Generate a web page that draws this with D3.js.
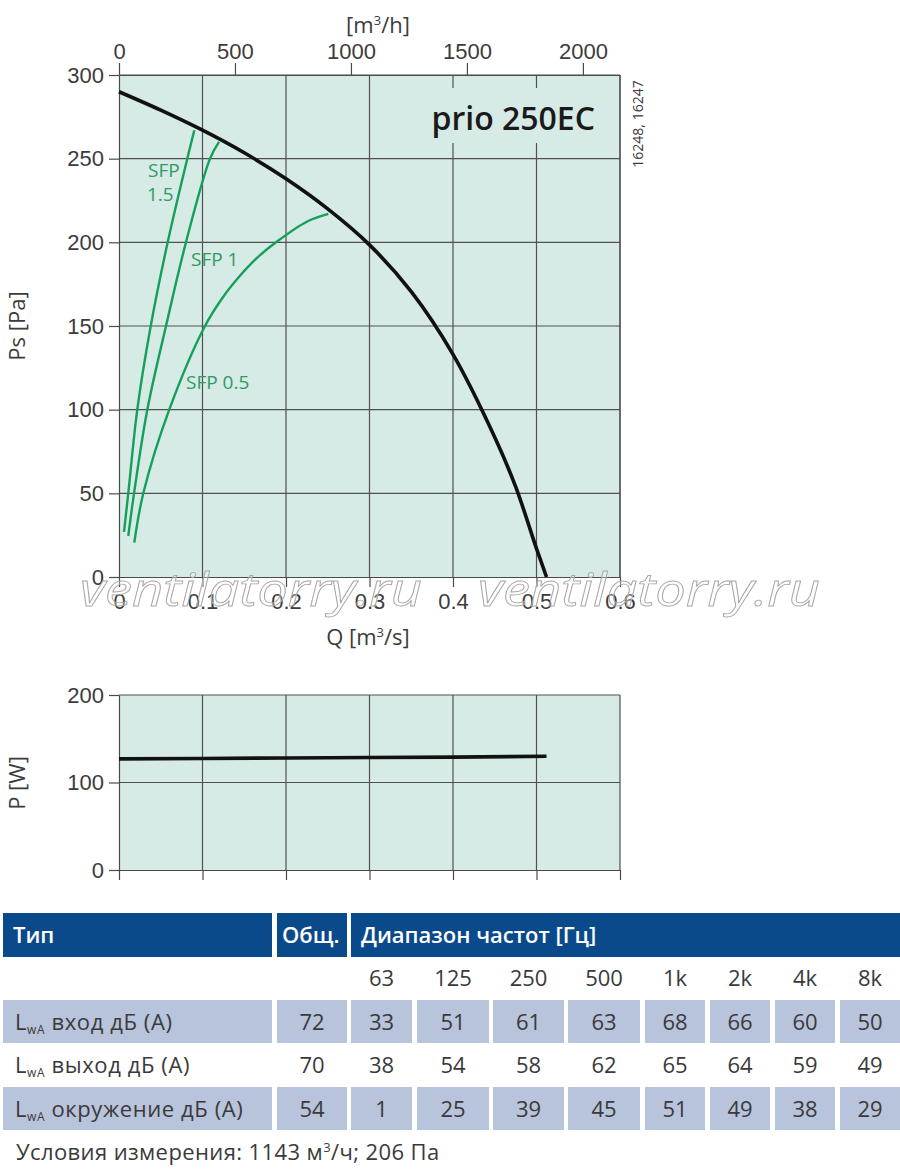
<!DOCTYPE html>
<html>
<head>
<meta charset="utf-8">
<script src="https://cdn.jsdelivr.net/npm/d3@7"></script>
<style>
  body { margin: 0; background: #fff; }
  svg { font-family: "Open Sans", "Noto Sans", sans-serif; }
  .tick text { font-size: 22px; fill: #3c3c3c; }
  .tick line, .domain { stroke: #4a4a4a; stroke-width: 1.2; }
</style>
</head>
<body>
<script>
// fan curve, prio 250EC
var fanQ  = [0, 0.05, 0.1, 0.15, 0.2, 0.25, 0.3, 0.35, 0.4, 0.45, 0.475, 0.5, 0.512];
var fanPs = [290, 279, 267, 253.5, 238, 220, 198.5, 170.5, 133, 83.5, 54, 17, 0];

// SFP lines
var sfp15Q  = [0.006, 0.0111, 0.0219, 0.038, 0.0583, 0.0818, 0.0902];
var sfp15Ps = [27, 50, 100, 150, 200, 250, 267];
var sfp1Q   = [0.0111, 0.018, 0.0339, 0.0563, 0.0802, 0.109, 0.1198];
var sfp1Ps  = [24.5, 50, 100, 150, 200, 250, 260];
var sfp05Q  = [0.0183, 0.0291, 0.0602, 0.103, 0.1249, 0.1449, 0.1649, 0.188, 0.2248, 0.2507];
var sfp05Ps = [20.5, 50, 100, 150, 167.5, 180, 190.5, 200, 212.3, 217];

// power input
var powQ = [0, 0.1, 0.2, 0.3, 0.4, 0.512];
var powP = [127, 127.5, 128, 128.5, 129, 130];

// ticks
var qTicks  = [0, 0.1, 0.2, 0.3, 0.4, 0.5, 0.6];
var qhTicks = [0, 500, 1000, 1500, 2000];
var psTicks = [0, 50, 100, 150, 200, 250, 300];
var pTicks  = [0, 100, 200];

// sound table
var freqs     = ["63", "125", "250", "500", "1k", "2k", "4k", "8k"];
var rowNames  = ["вход дБ (A)", "выход дБ (A)", "окружение дБ (A)"];
var totals    = [72, 70, 54];
var inletdB   = [33, 51, 61, 63, 68, 66, 60, 50];
var outletdB  = [38, 54, 58, 62, 65, 64, 59, 49];
var surrdB    = [1, 25, 39, 45, 51, 49, 38, 29];

var width = 900, height = 1175;
var bg = "#d6ebe6", grid = "#505050", green = "#14a05a";

var svg = d3.select("body").append("svg")
    .attr("width", width)
    .attr("height", height);

var x = d3.scaleLinear().domain([0, 0.6]).range([119, 620]);
var xh = d3.scaleLinear().domain([0, 0.6 * 3600]).range([119, 620]);
var y = d3.scaleLinear().domain([0, 300]).range([577, 75]);
var yp = d3.scaleLinear().domain([0, 200]).range([870, 695]);

function zip(a, b) { return a.map(function(d, i) { return [d, b[i]]; }); }

// ---------- main chart ----------
var gMain = svg.append("g");

gMain.append("rect")
    .attr("x", x(0)).attr("y", y(300))
    .attr("width", x(0.6) - x(0)).attr("height", y(0) - y(300))
    .attr("fill", bg);

gMain.selectAll(".vgrid")
    .data(qTicks.slice(1))
    .enter().append("line")
    .attr("x1", function(d) { return x(d); }).attr("x2", function(d) { return x(d); })
    .attr("y1", y(0)).attr("y2", y(300))
    .attr("stroke", grid).attr("stroke-width", 1.2);

gMain.selectAll(".hgrid")
    .data(psTicks.slice(1))
    .enter().append("line")
    .attr("x1", x(0)).attr("x2", x(0.6))
    .attr("y1", function(d) { return y(d); }).attr("y2", function(d) { return y(d); })
    .attr("stroke", grid).attr("stroke-width", 1.2);

// title box hides the grid behind the name
gMain.append("rect")
    .attr("x", 420).attr("y", 88)
    .attr("width", 196).attr("height", 55)
    .attr("fill", bg);

gMain.append("text")
    .attr("x", 595).attr("y", 130)
    .attr("text-anchor", "end")
    .style("font-size", "32px")
    .style("font-weight", 600)
    .attr("fill", "#1a1a1a")
    .text("prio 250EC");

var fmtQ = function(d) { return d === 0 ? "0" : d3.format(".1f")(d); };

gMain.append("g")
    .attr("transform", "translate(0," + y(0) + ")")
    .call(d3.axisBottom(x).tickValues(qTicks).tickSize(10).tickSizeOuter(0).tickPadding(6).tickFormat(fmtQ));

gMain.append("g")
    .attr("transform", "translate(0," + y(300) + ")")
    .call(d3.axisTop(xh).tickValues(qhTicks).tickSize(12).tickSizeOuter(0).tickPadding(4).tickFormat(d3.format("d")));

gMain.append("g")
    .attr("transform", "translate(" + x(0) + ",0)")
    .call(d3.axisLeft(y).tickValues(psTicks).tickSize(10).tickSizeOuter(0).tickPadding(5));

gMain.append("line")
    .attr("x1", x(0.6)).attr("x2", x(0.6))
    .attr("y1", y(0)).attr("y2", y(300))
    .attr("stroke", grid).attr("stroke-width", 1.2);

var line = d3.line()
    .x(function(d) { return x(d[0]); })
    .y(function(d) { return y(d[1]); })
    .curve(d3.curveCatmullRom.alpha(0.5));

[[sfp15Q, sfp15Ps], [sfp1Q, sfp1Ps], [sfp05Q, sfp05Ps]].forEach(function(s) {
  gMain.append("path")
      .datum(zip(s[0], s[1]))
      .attr("d", line)
      .attr("fill", "none")
      .attr("stroke", green)
      .attr("stroke-width", 2.4);
});

gMain.append("path")
    .datum(zip(fanQ, fanPs))
    .attr("d", line)
    .attr("fill", "none")
    .attr("stroke", "#111")
    .attr("stroke-width", 3.6);

var sfpLabels = [
  {t: "SFP", x: 148, y: 177},
  {t: "1.5", x: 147, y: 201},
  {t: "SFP 1", x: 191, y: 266},
  {t: "SFP 0.5", x: 186, y: 389}
];
gMain.selectAll(".sfp")
    .data(sfpLabels)
    .enter().append("text")
    .attr("x", function(d) { return d.x; })
    .attr("y", function(d) { return d.y; })
    .attr("fill", "#2f9a62")
    .style("font-size", "19px")
    .text(function(d) { return d.t; });

// axis titles
gMain.append("text")
    .attr("x", 378).attr("y", 33)
    .attr("text-anchor", "middle")
    .style("font-size", "22px").attr("fill", "#3c3c3c")
    .html('[m<tspan dy="-8" style="font-size:13px">3</tspan><tspan dy="8">/h]</tspan>');

gMain.append("text")
    .attr("x", 368).attr("y", 645)
    .attr("text-anchor", "middle")
    .style("font-size", "22px").attr("fill", "#3c3c3c")
    .html('Q [m<tspan dy="-8" style="font-size:13px">3</tspan><tspan dy="8">/s]</tspan>');

gMain.append("text")
    .attr("transform", "translate(25,326)rotate(-90)")
    .attr("text-anchor", "middle")
    .style("font-size", "22px").attr("fill", "#3c3c3c")
    .text("Ps [Pa]");

gMain.append("text")
    .attr("transform", "translate(643,124)rotate(-90)")
    .attr("text-anchor", "middle")
    .style("font-size", "14px").attr("fill", "#3c3c3c")
    .text("16248, 16247");

// watermark
[80, 478].forEach(function(wx) {
  svg.append("text")
      .attr("x", wx).attr("y", 606)
      .attr("textLength", 342)
      .attr("lengthAdjust", "spacingAndGlyphs")
      .style("font-size", "46px")
      .style("font-style", "italic")
      .attr("fill", "#fff").attr("fill-opacity", 0.3)
      .attr("stroke", "#a8a8a8").attr("stroke-width", 0.9)
      .text("ventilatorry.ru");
});

// ---------- power chart ----------
var gPow = svg.append("g");

gPow.append("rect")
    .attr("x", x(0)).attr("y", yp(200))
    .attr("width", x(0.6) - x(0)).attr("height", yp(0) - yp(200))
    .attr("fill", bg);

gPow.selectAll(".vgrid")
    .data(qTicks.slice(1))
    .enter().append("line")
    .attr("x1", function(d) { return x(d); }).attr("x2", function(d) { return x(d); })
    .attr("y1", yp(0)).attr("y2", yp(200))
    .attr("stroke", grid).attr("stroke-width", 1.2);

gPow.selectAll(".hgrid")
    .data(pTicks.slice(1))
    .enter().append("line")
    .attr("x1", x(0)).attr("x2", x(0.6))
    .attr("y1", function(d) { return yp(d); }).attr("y2", function(d) { return yp(d); })
    .attr("stroke", grid).attr("stroke-width", 1.2);

gPow.append("g")
    .attr("transform", "translate(0," + yp(0) + ")")
    .call(d3.axisBottom(x).tickValues(qTicks).tickSize(10).tickSizeOuter(0).tickFormat(""));

gPow.append("g")
    .attr("transform", "translate(" + x(0) + ",0)")
    .call(d3.axisLeft(yp).tickValues(pTicks).tickSize(10).tickSizeOuter(0).tickPadding(5));

gPow.append("path")
    .datum(zip(powQ, powP))
    .attr("d", d3.line().x(function(d) { return x(d[0]); }).y(function(d) { return yp(d[1]); }))
    .attr("fill", "none")
    .attr("stroke", "#111")
    .attr("stroke-width", 3.6);

gPow.append("text")
    .attr("transform", "translate(25,783)rotate(-90)")
    .attr("text-anchor", "middle")
    .style("font-size", "22px").attr("fill", "#3c3c3c")
    .text("P [W]");

// ---------- sound table ----------
var colL = [3, 277, 351, 417, 493, 568, 645, 710, 775, 840];
var colR = [272, 347, 412, 489, 564, 640, 705, 770, 835, 900];
var blue = "#0b4a8a", shade = "#b8c3dc", ink = "#3a3a3a";

var tbl = svg.append("g");

var head = [
  {t: "Тип", l: colL[0], r: colR[0]},
  {t: "Общ.", l: colL[1], r: colR[1]},
  {t: "Диапазон частот [Гц]", l: colL[2], r: colR[9]}
];
tbl.selectAll(".hcell")
    .data(head)
    .enter().append("rect")
    .attr("x", function(d) { return d.l; }).attr("y", 913)
    .attr("width", function(d) { return d.r - d.l; }).attr("height", 44)
    .attr("fill", blue);
tbl.selectAll(".htext")
    .data(head)
    .enter().append("text")
    .attr("x", function(d, i) { return d.l + (i === 1 ? 5 : 10); }).attr("y", 943)
    .attr("fill", "#fff")
    .style("font-size", "22px").style("font-weight", 600)
    .text(function(d) { return d.t; });

tbl.selectAll(".freq")
    .data(freqs)
    .enter().append("text")
    .attr("x", function(d, i) { return (colL[i + 2] + colR[i + 2]) / 2; })
    .attr("y", 986)
    .attr("text-anchor", "middle")
    .attr("fill", ink).style("font-size", "22px")
    .text(function(d) { return d; });

var rows = [inletdB, outletdB, surrdB];
var rowTop = [1000, 1043, 1087];

rows.forEach(function(vals, r) {
  var g = tbl.append("g");
  if (r !== 1) {
    g.selectAll("rect")
        .data(d3.range(colL.length))
        .enter().append("rect")
        .attr("x", function(i) { return colL[i]; }).attr("y", rowTop[r])
        .attr("width", function(i) { return colR[i] - colL[i]; }).attr("height", 43)
        .attr("fill", shade);
  }
  var cy = rowTop[r] + 30;
  g.append("text")
      .attr("x", 15).attr("y", cy)
      .attr("fill", ink).style("font-size", "22px").style("letter-spacing", "0.6px")
      .html('L<tspan dy="4" style="font-size:12px">wA</tspan><tspan dy="-4"> ' + rowNames[r] + '</tspan>');
  g.append("text")
      .attr("x", (colL[1] + colR[1]) / 2).attr("y", cy)
      .attr("text-anchor", "middle")
      .attr("fill", ink).style("font-size", "22px")
      .text(totals[r]);
  g.selectAll(".v")
      .data(vals)
      .enter().append("text")
      .attr("x", function(d, i) { return (colL[i + 2] + colR[i + 2]) / 2; })
      .attr("y", cy)
      .attr("text-anchor", "middle")
      .attr("fill", ink).style("font-size", "22px")
      .text(function(d) { return d; });
});

tbl.append("text")
    .attr("x", 16).attr("y", 1160)
    .attr("fill", ink).style("font-size", "22px").style("letter-spacing", "0.4px")
    .html('Условия измерения: 1143 м<tspan dy="-8" style="font-size:13px">3</tspan><tspan dy="8">/ч; 206 Па</tspan>');
</script>
</body>
</html>
